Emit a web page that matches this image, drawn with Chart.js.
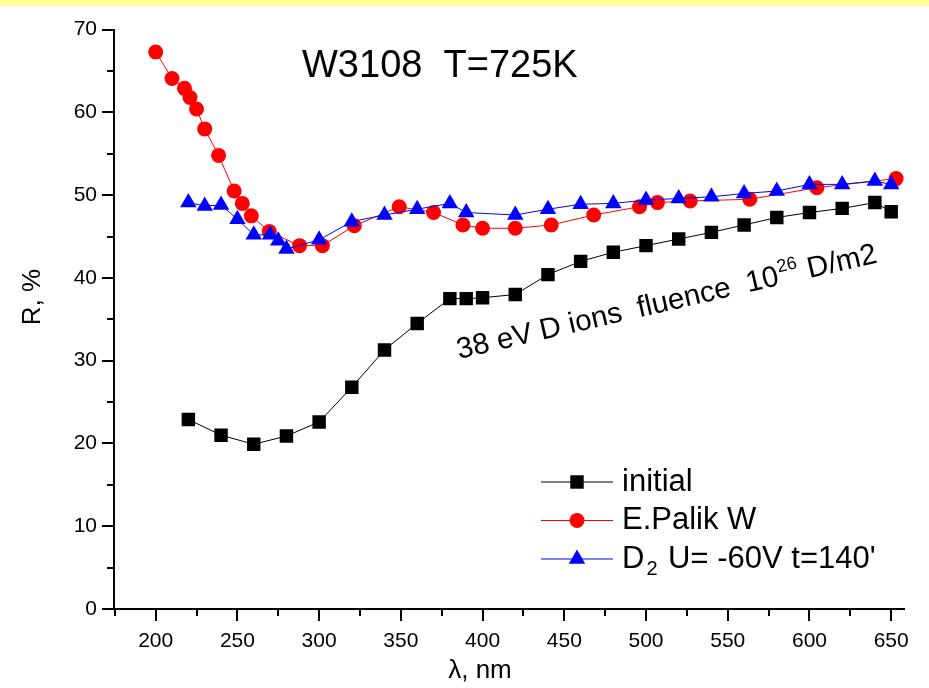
<!DOCTYPE html>
<html>
<head>
<meta charset="utf-8">
<title>W3108 reflectance</title>
<script src="https://cdn.jsdelivr.net/npm/chart.js@4.4.0/dist/chart.umd.min.js"></script>
<style>
    html, body { margin: 0; padding: 0; background: #fff; }
    #wrap { position: relative; width: 929px; height: 688px; }
    #band { position: absolute; left: 0; top: 0; width: 929px; height: 6px; background: #ffff99; }
    canvas { position: absolute; left: 0; top: 0; }
</style>
</head>
<body>
<div id="wrap">
    <canvas id="chart" width="929" height="688"></canvas>
    <div id="band"></div>
</div>
<script>
// Wavelength (nm) and reflectance (%) for each series
const initialNm = [220, 240, 260, 280, 300, 320, 340, 360, 380, 390, 400, 420, 440, 460, 480, 500, 520, 540, 560, 580, 600, 620, 640, 650];
const initialR = [22.9, 21.0, 19.9, 20.9, 22.6, 26.8, 31.3, 34.5, 37.5, 37.5, 37.6, 38.0, 40.4, 42.0, 43.1, 43.9, 44.7, 45.5, 46.4, 47.3, 47.9, 48.4, 49.1, 48.0];

const palikNm = [200, 210, 217.6, 221, 225, 230, 238.5, 248, 253, 258.5, 269.5, 288, 302, 321.5, 349, 370, 388, 400, 420, 442, 468, 496, 507, 527, 563.5, 604.5, 653];
const palikR = [67.3, 64.1, 62.9, 61.8, 60.4, 58.0, 54.8, 50.5, 49.0, 47.5, 45.6, 43.9, 43.9, 46.3, 48.6, 47.9, 46.4, 46.0, 46.0, 46.4, 47.6, 48.6, 49.1, 49.3, 49.5, 50.9, 52.0];

const d2Nm = [220, 230, 240, 250, 260, 270, 275, 280, 300, 320, 340, 360, 380, 390, 420, 440, 460, 480, 500, 520, 540, 560, 580, 600, 620, 640, 650];
const d2R = [49.1, 48.7, 48.8, 47.1, 45.2, 45.2, 44.5, 43.5, 44.6, 46.8, 47.6, 48.3, 49.0, 47.9, 47.6, 48.3, 48.9, 49.0, 49.4, 49.6, 49.8, 50.2, 50.5, 51.3, 51.3, 51.7, 51.3];

// Axis ticks
const xMajor = [200, 250, 300, 350, 400, 450, 500, 550, 600, 650];
const xMinor = [175, 225, 275, 325, 375, 425, 475, 525, 575, 625];
const yMajor = [0, 10, 20, 30, 40, 50, 60, 70];
const yMinor = [5, 15, 25, 35, 45, 55, 65];

const FONT = "'Liberation Sans', Arial, sans-serif";

function toPoints(xs, ys) {
    return xs.map((x, i) => ({ x: x, y: ys[i] }));
}

// Legend rows: label parts, colour, marker
const legendRows = [
    { color: '#000000', style: 'rect', radius: 9.5, parts: [{ t: 'initial' }] },
    { color: '#ff0000', style: 'circle', radius: 7.5, parts: [{ t: 'E.Palik W' }] },
    { color: '#0000ff', style: 'triangle', radius: 9.5, parts: [{ t: 'D' }, { t: '2', sub: true }, { t: ' U= -60V t=140\'' }] }
];

function drawParts(ctx, parts, x, y, size) {
    parts.forEach(p => {
        if (p.sub) {
            ctx.font = Math.round(size * 0.65) + 'px ' + FONT;
            ctx.fillText(p.t, x + 2, y + size * 0.34);
            x += 4;
        } else if (p.sup) {
            ctx.font = Math.round(size * 0.62) + 'px ' + FONT;
            ctx.fillText(p.t, x + 1, y - size * 0.42);
            x += 2;
        } else {
            ctx.font = size + 'px ' + FONT;
            ctx.fillText(p.t, x, y);
        }
        x += ctx.measureText(p.t).width;
    });
}

const decor = {
    id: 'decor',
    afterDraw(chart) {
        const ctx = chart.ctx;
        const xs = chart.scales.x, ys = chart.scales.y;
        const area = chart.chartArea;
        ctx.save();
        ctx.strokeStyle = '#000';
        ctx.fillStyle = '#000';
        ctx.lineWidth = 2;

        // tick marks, pointing outward
        ctx.beginPath();
        xMajor.forEach(v => { const p = Math.round(xs.getPixelForValue(v)); ctx.moveTo(p, area.bottom); ctx.lineTo(p, area.bottom + 12); });
        xMinor.forEach(v => { const p = Math.round(xs.getPixelForValue(v)); ctx.moveTo(p, area.bottom); ctx.lineTo(p, area.bottom + 7); });
        yMajor.forEach(v => { const p = Math.round(ys.getPixelForValue(v)); ctx.moveTo(area.left, p); ctx.lineTo(area.left - 12, p); });
        yMinor.forEach(v => { const p = Math.round(ys.getPixelForValue(v)); ctx.moveTo(area.left, p); ctx.lineTo(area.left - 7, p); });
        ctx.stroke();

        // axis titles
        ctx.textBaseline = 'alphabetic';
        ctx.textAlign = 'center';
        ctx.font = '26px ' + FONT;
        ctx.fillText('\u03bb, nm', 480, 678);
        ctx.save();
        ctx.translate(40, 297);
        ctx.rotate(-Math.PI / 2);
        ctx.fillText('R, %', 0, 0);
        ctx.restore();

        // sample title
        ctx.textAlign = 'left';
        ctx.font = '38px ' + FONT;
        ctx.fillText('W3108  T=725K', 302, 77);

        // fluence note
        ctx.save();
        ctx.translate(459, 359);
        ctx.rotate(-13 * Math.PI / 180);
        drawParts(ctx, [{ t: '38 eV D ions  fluence  10' }, { t: '26', sup: true }, { t: ' D/m2' }], 0, 0, 29.5);
        ctx.restore();

        // legend
        legendRows.forEach((row, i) => {
            const y = 482 + i * 38.5;
            ctx.strokeStyle = row.color;
            ctx.lineWidth = 1;
            ctx.beginPath();
            ctx.moveTo(541, y);
            ctx.lineTo(613, y);
            ctx.stroke();
            ctx.fillStyle = row.color;
            Chart.helpers.drawPoint(ctx, { pointStyle: row.style, radius: row.radius, rotation: 0, borderWidth: 0 }, 577, y);
            ctx.fillStyle = '#000';
            ctx.textBaseline = 'middle';
            drawParts(ctx, row.parts, 622, y, 31);
        });
        ctx.restore();
    }
};

const ctx = document.getElementById('chart').getContext('2d');
const chart = new Chart(ctx, {
    type: 'scatter',
    data: {
        datasets: [
            {
                label: 'initial',
                data: toPoints(initialNm, initialR),
                showLine: true,
                borderColor: '#000',
                backgroundColor: '#000',
                borderWidth: 1,
                pointStyle: 'rect',
                pointRadius: 9.5,
                pointBorderWidth: 0,
                order: 3
            },
            {
                label: 'E.Palik W',
                data: toPoints(palikNm, palikR),
                showLine: true,
                borderColor: '#ff0000',
                backgroundColor: '#ff0000',
                borderWidth: 1,
                pointStyle: 'circle',
                pointRadius: 7.5,
                pointBorderWidth: 0,
                order: 2
            },
            {
                label: 'D2 U= -60V t=140\'',
                data: toPoints(d2Nm, d2R),
                showLine: true,
                borderColor: '#0000ff',
                backgroundColor: '#0000ff',
                borderWidth: 1,
                pointStyle: 'triangle',
                pointRadius: 9.5,
                pointBorderWidth: 0,
                order: 1
            }
        ]
    },
    options: {
        responsive: false,
        animation: false,
        devicePixelRatio: 1,
        layout: { padding: { top: 21, right: 17, left: 0, bottom: 0 } },
        plugins: {
            legend: { display: false },
            tooltip: { enabled: false }
        },
        scales: {
            x: {
                type: 'linear',
                min: 174.5,
                max: 658,
                afterBuildTicks: scale => { scale.ticks = xMajor.map(v => ({ value: v })); },
                afterFit: scale => { scale.height = 79; },
                grid: { display: false, drawTicks: false },
                border: { display: true, color: '#000', width: 2 },
                ticks: {
                    padding: 20,
                    maxRotation: 0,
                    color: '#000',
                    font: { family: FONT, size: 21 }
                }
            },
            y: {
                type: 'linear',
                min: 0,
                max: 70,
                afterBuildTicks: scale => { scale.ticks = yMajor.map(v => ({ value: v })); },
                afterFit: scale => { scale.width = 114; },
                grid: { display: false, drawTicks: false },
                border: { display: true, color: '#000', width: 2 },
                ticks: {
                    padding: 17,
                    color: '#000',
                    font: { family: FONT, size: 21 }
                }
            }
        }
    },
    plugins: [decor]
});
</script>
</body>
</html>
